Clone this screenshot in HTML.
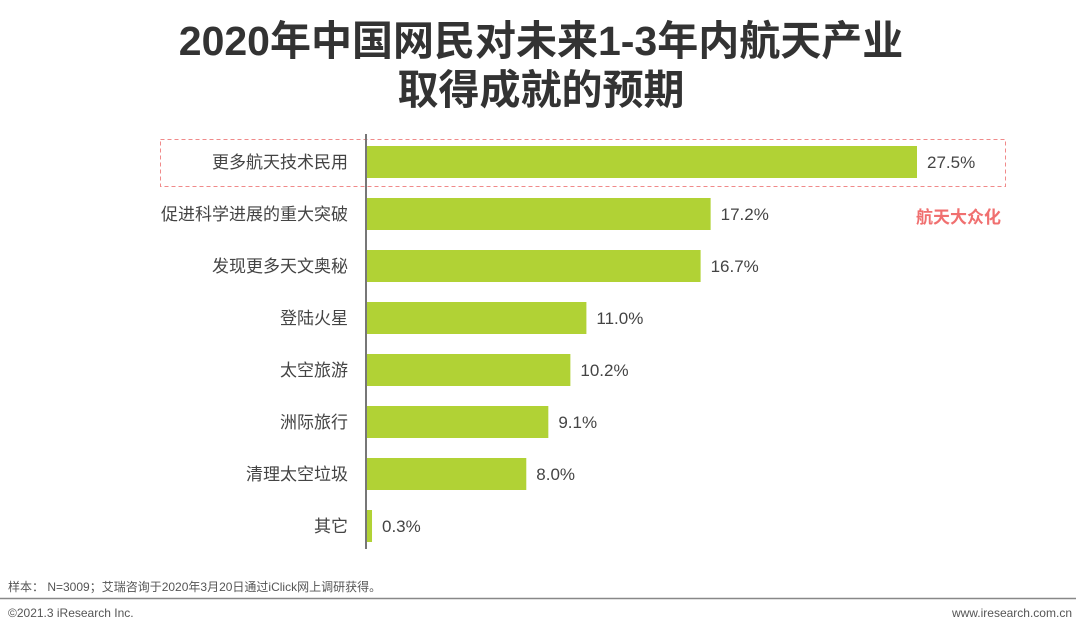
<!DOCTYPE html>
<html><head><meta charset="utf-8"><style>
body{margin:0;width:1080px;height:634px;background:#fff;overflow:hidden;font-family:"Liberation Sans","Noto Sans CJK SC",sans-serif}
</style></head><body>
<svg width="1080" height="634" xmlns="http://www.w3.org/2000/svg">
<text x="541" y="55" text-anchor="middle" font-size="41" font-weight="bold" fill="#333" font-family="Liberation Sans,Noto Sans CJK SC,sans-serif">2020年中国网民对未来1-3年内航天产业</text>
<text x="541" y="104" text-anchor="middle" font-size="41" font-weight="bold" fill="#333" font-family="Liberation Sans,Noto Sans CJK SC,sans-serif">取得成就的预期</text>
<rect x="160.5" y="139.5" width="845" height="47" fill="none" stroke="#f08a8a" stroke-dasharray="4,3"/>
<text x="1001" y="223" text-anchor="end" font-size="17" font-weight="bold" fill="#f07070" font-family="Liberation Sans,Noto Sans CJK SC,sans-serif">航天大众化</text>
<g id="bars"></g>
<line x1="366" y1="134" x2="366" y2="549" stroke="#777" stroke-width="2"/>
<text x="8" y="591" font-size="12" fill="#555" font-family="Liberation Sans,Noto Sans CJK SC,sans-serif">样本： N=3009；艾瑞咨询于2020年3月20日通过iClick网上调研获得。</text>
<line x1="0" y1="598.5" x2="1076" y2="598.5" stroke="#888" stroke-width="1.5"/>
<text x="8" y="617" font-size="12" fill="#555">©2021.3 iResearch Inc.</text>
<text x="1072" y="617" text-anchor="end" font-size="12" fill="#555">www.iresearch.com.cn</text>
</svg>
<script>
const categories=["更多航天技术民用","促进科学进展的重大突破","发现更多天文奥秘","登陆火星","太空旅游","洲际旅行","清理太空垃圾","其它"];
const values=[27.5,17.2,16.7,11.0,10.2,9.1,8.0,0.3];
const valueLabels=["27.5%","17.2%","16.7%","11.0%","10.2%","9.1%","8.0%","0.3%"];
const ns="http://www.w3.org/2000/svg";
const x0=366,pxPer=551/27.5;
const xs=v=>x0+v*pxPer;
const yc=i=>162+i*52.0;
const g=document.getElementById('bars');
categories.forEach((c,i)=>{
  const r=document.createElementNS(ns,'rect');
  r.setAttribute('x',x0);r.setAttribute('y',yc(i)-16);
  r.setAttribute('width',xs(values[i])-x0);r.setAttribute('height',32);
  r.setAttribute('fill','#b1d235');
  
  
  g.appendChild(r);
  const t=document.createElementNS(ns,'text');
  t.setAttribute('x',348);t.setAttribute('y',yc(i)+6);
  t.setAttribute('text-anchor','end');t.setAttribute('font-size','17');t.setAttribute('fill','#444');
  t.setAttribute('font-family','Liberation Sans,Noto Sans CJK SC,sans-serif');
  t.textContent=c;
  
  
  g.appendChild(t);
  const v=document.createElementNS(ns,'text');
  v.setAttribute('x',xs(values[i])+10);v.setAttribute('y',yc(i)+6);
  v.setAttribute('font-size','17');v.setAttribute('fill','#444');
  v.textContent=valueLabels[i];
  
  
  g.appendChild(v);
});
</script>
</body></html>
